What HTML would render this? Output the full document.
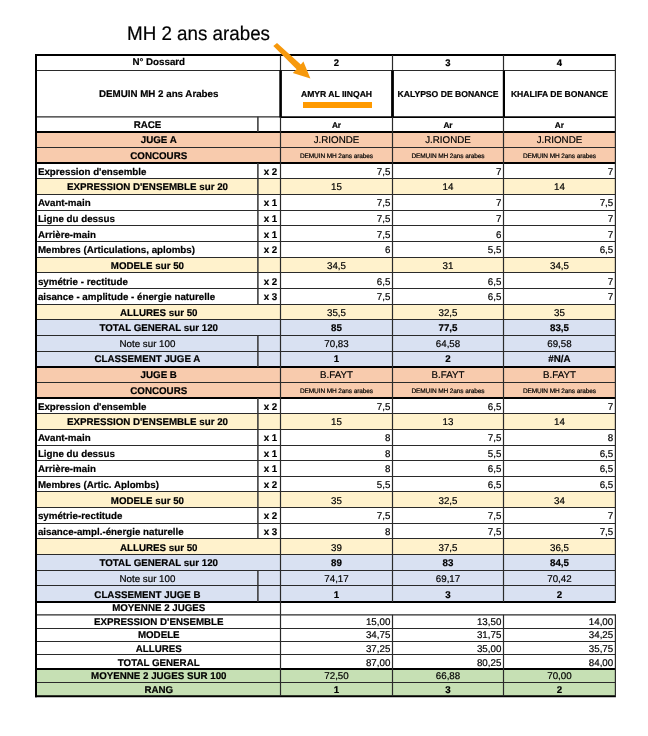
<!DOCTYPE html>
<html><head><meta charset="utf-8"><style>
html,body{margin:0;padding:0;background:#fff;}
body{width:648px;height:736px;position:relative;overflow:hidden;font-family:"Liberation Sans",sans-serif;color:#000;}
svg{position:absolute;left:0;top:0;}
.t{position:absolute;height:20px;line-height:20px;white-space:nowrap;text-rendering:geometricPrecision;-webkit-text-stroke:0.2px #000;}
.title{position:absolute;left:127px;top:18px;font-size:18.8px;line-height:30px;white-space:nowrap;text-rendering:geometricPrecision;transform:scaleY(1.05);transform-origin:0 0;-webkit-text-stroke:0.2px #000;}
</style></head><body>
<svg width="648" height="736" viewBox="0 0 648 736">
<rect x="36" y="132" width="579.4" height="15.5" fill="#F8CBAD"/>
<rect x="36" y="147.5" width="579.4" height="15.5" fill="#F8CBAD"/>
<rect x="36" y="178.5" width="579.4" height="16.0" fill="#FFF2CC"/>
<rect x="36" y="257.5" width="579.4" height="15.0" fill="#FFF2CC"/>
<rect x="36" y="304.5" width="579.4" height="15.0" fill="#FFF2CC"/>
<rect x="36" y="319.5" width="579.4" height="16.0" fill="#D9E1F2"/>
<rect x="36" y="335.5" width="579.4" height="16.0" fill="#D9E1F2"/>
<rect x="36" y="351.5" width="579.4" height="15.5" fill="#D9E1F2"/>
<rect x="36" y="367" width="579.4" height="15.5" fill="#F8CBAD"/>
<rect x="36" y="382.5" width="579.4" height="15.5" fill="#F8CBAD"/>
<rect x="36" y="413.5" width="579.4" height="16.0" fill="#FFF2CC"/>
<rect x="36" y="491.5" width="579.4" height="16.0" fill="#FFF2CC"/>
<rect x="36" y="538.5" width="579.4" height="16.0" fill="#FFF2CC"/>
<rect x="36" y="554.5" width="579.4" height="16.0" fill="#D9E1F2"/>
<rect x="36" y="570.5" width="579.4" height="15.0" fill="#D9E1F2"/>
<rect x="36" y="585.5" width="579.4" height="16.5" fill="#D9E1F2"/>
<rect x="36" y="669" width="579.4" height="13.5" fill="#C6E0B4"/>
<rect x="36" y="682.5" width="579.4" height="13.700000000000045" fill="#C6E0B4"/>
<rect x="303" y="102" width="69" height="6" fill="#FF9A00"/>
<line x1="35" y1="55" x2="615.9" y2="55" stroke="#000" stroke-width="2"/>
<line x1="35" y1="70.5" x2="615.9" y2="70.5" stroke="#2a2a2a" stroke-width="1.2"/>
<line x1="35" y1="116.8" x2="615.9" y2="116.8" stroke="#2a2a2a" stroke-width="1.2"/>
<line x1="35" y1="132" x2="615.9" y2="132" stroke="#000" stroke-width="2"/>
<line x1="35" y1="147.5" x2="615.9" y2="147.5" stroke="#2a2a2a" stroke-width="1.2"/>
<line x1="35" y1="163" x2="615.9" y2="163" stroke="#000" stroke-width="2"/>
<line x1="35" y1="178.5" x2="615.9" y2="178.5" stroke="#2a2a2a" stroke-width="1.2"/>
<line x1="35" y1="194.5" x2="615.9" y2="194.5" stroke="#2a2a2a" stroke-width="1.2"/>
<line x1="35" y1="210.5" x2="615.9" y2="210.5" stroke="#2a2a2a" stroke-width="1.2"/>
<line x1="35" y1="225.5" x2="615.9" y2="225.5" stroke="#2a2a2a" stroke-width="1.2"/>
<line x1="35" y1="241.5" x2="615.9" y2="241.5" stroke="#2a2a2a" stroke-width="1.2"/>
<line x1="35" y1="257.5" x2="615.9" y2="257.5" stroke="#2a2a2a" stroke-width="1.2"/>
<line x1="35" y1="272.5" x2="615.9" y2="272.5" stroke="#2a2a2a" stroke-width="1.2"/>
<line x1="35" y1="288.5" x2="615.9" y2="288.5" stroke="#2a2a2a" stroke-width="1.2"/>
<line x1="35" y1="304.5" x2="615.9" y2="304.5" stroke="#2a2a2a" stroke-width="1.2"/>
<line x1="35" y1="319.5" x2="615.9" y2="319.5" stroke="#2a2a2a" stroke-width="1.2"/>
<line x1="35" y1="335.5" x2="615.9" y2="335.5" stroke="#2a2a2a" stroke-width="1.2"/>
<line x1="35" y1="351.5" x2="615.9" y2="351.5" stroke="#2a2a2a" stroke-width="1.2"/>
<line x1="35" y1="367" x2="615.9" y2="367" stroke="#000" stroke-width="2"/>
<line x1="35" y1="382.5" x2="615.9" y2="382.5" stroke="#2a2a2a" stroke-width="1.2"/>
<line x1="35" y1="398" x2="615.9" y2="398" stroke="#000" stroke-width="2"/>
<line x1="35" y1="413.5" x2="615.9" y2="413.5" stroke="#2a2a2a" stroke-width="1.2"/>
<line x1="35" y1="429.5" x2="615.9" y2="429.5" stroke="#2a2a2a" stroke-width="1.2"/>
<line x1="35" y1="445.5" x2="615.9" y2="445.5" stroke="#2a2a2a" stroke-width="1.2"/>
<line x1="35" y1="460.5" x2="615.9" y2="460.5" stroke="#2a2a2a" stroke-width="1.2"/>
<line x1="35" y1="476.5" x2="615.9" y2="476.5" stroke="#2a2a2a" stroke-width="1.2"/>
<line x1="35" y1="491.5" x2="615.9" y2="491.5" stroke="#2a2a2a" stroke-width="1.2"/>
<line x1="35" y1="507.5" x2="615.9" y2="507.5" stroke="#2a2a2a" stroke-width="1.2"/>
<line x1="35" y1="523.5" x2="615.9" y2="523.5" stroke="#2a2a2a" stroke-width="1.2"/>
<line x1="35" y1="538.5" x2="615.9" y2="538.5" stroke="#2a2a2a" stroke-width="1.2"/>
<line x1="35" y1="554.5" x2="615.9" y2="554.5" stroke="#2a2a2a" stroke-width="1.2"/>
<line x1="35" y1="570.5" x2="615.9" y2="570.5" stroke="#2a2a2a" stroke-width="1.2"/>
<line x1="35" y1="585.5" x2="615.9" y2="585.5" stroke="#2a2a2a" stroke-width="1.2"/>
<line x1="35" y1="602" x2="615.9" y2="602" stroke="#000" stroke-width="2"/>
<line x1="35" y1="614.8" x2="615.9" y2="614.8" stroke="#2a2a2a" stroke-width="1.2"/>
<line x1="35" y1="628.5" x2="615.9" y2="628.5" stroke="#2a2a2a" stroke-width="1.2"/>
<line x1="35" y1="641.5" x2="615.9" y2="641.5" stroke="#2a2a2a" stroke-width="1.2"/>
<line x1="35" y1="654.5" x2="615.9" y2="654.5" stroke="#2a2a2a" stroke-width="1.2"/>
<line x1="35" y1="669" x2="615.9" y2="669" stroke="#000" stroke-width="2"/>
<line x1="35" y1="682.5" x2="615.9" y2="682.5" stroke="#2a2a2a" stroke-width="1.2"/>
<line x1="35" y1="696.2" x2="615.9" y2="696.2" stroke="#000" stroke-width="2"/>
<line x1="280.5" y1="117.4" x2="615.4" y2="117.4" stroke="#000" stroke-width="1.3"/>
<line x1="36" y1="54" x2="36" y2="697.2" stroke="#000" stroke-width="2"/>
<line x1="280.5" y1="55" x2="280.5" y2="70.5" stroke="#2a2a2a" stroke-width="1.2"/>
<line x1="392.5" y1="55" x2="392.5" y2="70.5" stroke="#2a2a2a" stroke-width="1.2"/>
<line x1="503.5" y1="55" x2="503.5" y2="70.5" stroke="#2a2a2a" stroke-width="1.2"/>
<line x1="615.4" y1="55" x2="615.4" y2="70.5" stroke="#2a2a2a" stroke-width="1.2"/>
<line x1="280.6" y1="70.5" x2="280.6" y2="117.5" stroke="#000" stroke-width="2.6"/>
<line x1="392.5" y1="70.5" x2="392.5" y2="117.5" stroke="#000" stroke-width="2.8"/>
<line x1="503.9" y1="70.5" x2="503.9" y2="117.5" stroke="#000" stroke-width="2.2"/>
<line x1="615.4" y1="70.5" x2="615.4" y2="116.8" stroke="#2a2a2a" stroke-width="1.2"/>
<line x1="257.9" y1="116.8" x2="257.9" y2="132" stroke="#333" stroke-width="1.5"/>
<line x1="280.5" y1="116.8" x2="280.5" y2="132" stroke="#2a2a2a" stroke-width="1.2"/>
<line x1="392.5" y1="116.8" x2="392.5" y2="132" stroke="#2a2a2a" stroke-width="1.2"/>
<line x1="503.5" y1="116.8" x2="503.5" y2="132" stroke="#2a2a2a" stroke-width="1.2"/>
<line x1="615.4" y1="116.8" x2="615.4" y2="132" stroke="#2a2a2a" stroke-width="1.2"/>
<line x1="280.5" y1="132" x2="280.5" y2="147.5" stroke="#2a2a2a" stroke-width="1.2"/>
<line x1="392.5" y1="132" x2="392.5" y2="147.5" stroke="#2a2a2a" stroke-width="1.2"/>
<line x1="503.5" y1="132" x2="503.5" y2="147.5" stroke="#2a2a2a" stroke-width="1.2"/>
<line x1="615.4" y1="132" x2="615.4" y2="147.5" stroke="#2a2a2a" stroke-width="1.2"/>
<line x1="280.5" y1="147.5" x2="280.5" y2="163" stroke="#2a2a2a" stroke-width="1.2"/>
<line x1="392.5" y1="147.5" x2="392.5" y2="163" stroke="#2a2a2a" stroke-width="1.2"/>
<line x1="503.5" y1="147.5" x2="503.5" y2="163" stroke="#2a2a2a" stroke-width="1.2"/>
<line x1="615.4" y1="147.5" x2="615.4" y2="163" stroke="#2a2a2a" stroke-width="1.2"/>
<line x1="257.9" y1="163" x2="257.9" y2="178.5" stroke="#333" stroke-width="1.5"/>
<line x1="280.5" y1="163" x2="280.5" y2="178.5" stroke="#2a2a2a" stroke-width="1.2"/>
<line x1="392.5" y1="163" x2="392.5" y2="178.5" stroke="#2a2a2a" stroke-width="1.2"/>
<line x1="503.5" y1="163" x2="503.5" y2="178.5" stroke="#2a2a2a" stroke-width="1.2"/>
<line x1="615.4" y1="163" x2="615.4" y2="178.5" stroke="#2a2a2a" stroke-width="1.2"/>
<line x1="257.9" y1="178.5" x2="257.9" y2="194.5" stroke="#333" stroke-width="1.5"/>
<line x1="280.5" y1="178.5" x2="280.5" y2="194.5" stroke="#2a2a2a" stroke-width="1.2"/>
<line x1="392.5" y1="178.5" x2="392.5" y2="194.5" stroke="#2a2a2a" stroke-width="1.2"/>
<line x1="503.5" y1="178.5" x2="503.5" y2="194.5" stroke="#2a2a2a" stroke-width="1.2"/>
<line x1="615.4" y1="178.5" x2="615.4" y2="194.5" stroke="#2a2a2a" stroke-width="1.2"/>
<line x1="257.9" y1="194.5" x2="257.9" y2="210.5" stroke="#333" stroke-width="1.5"/>
<line x1="280.5" y1="194.5" x2="280.5" y2="210.5" stroke="#2a2a2a" stroke-width="1.2"/>
<line x1="392.5" y1="194.5" x2="392.5" y2="210.5" stroke="#2a2a2a" stroke-width="1.2"/>
<line x1="503.5" y1="194.5" x2="503.5" y2="210.5" stroke="#2a2a2a" stroke-width="1.2"/>
<line x1="615.4" y1="194.5" x2="615.4" y2="210.5" stroke="#2a2a2a" stroke-width="1.2"/>
<line x1="257.9" y1="210.5" x2="257.9" y2="225.5" stroke="#333" stroke-width="1.5"/>
<line x1="280.5" y1="210.5" x2="280.5" y2="225.5" stroke="#2a2a2a" stroke-width="1.2"/>
<line x1="392.5" y1="210.5" x2="392.5" y2="225.5" stroke="#2a2a2a" stroke-width="1.2"/>
<line x1="503.5" y1="210.5" x2="503.5" y2="225.5" stroke="#2a2a2a" stroke-width="1.2"/>
<line x1="615.4" y1="210.5" x2="615.4" y2="225.5" stroke="#2a2a2a" stroke-width="1.2"/>
<line x1="257.9" y1="225.5" x2="257.9" y2="241.5" stroke="#333" stroke-width="1.5"/>
<line x1="280.5" y1="225.5" x2="280.5" y2="241.5" stroke="#2a2a2a" stroke-width="1.2"/>
<line x1="392.5" y1="225.5" x2="392.5" y2="241.5" stroke="#2a2a2a" stroke-width="1.2"/>
<line x1="503.5" y1="225.5" x2="503.5" y2="241.5" stroke="#2a2a2a" stroke-width="1.2"/>
<line x1="615.4" y1="225.5" x2="615.4" y2="241.5" stroke="#2a2a2a" stroke-width="1.2"/>
<line x1="257.9" y1="241.5" x2="257.9" y2="257.5" stroke="#333" stroke-width="1.5"/>
<line x1="280.5" y1="241.5" x2="280.5" y2="257.5" stroke="#2a2a2a" stroke-width="1.2"/>
<line x1="392.5" y1="241.5" x2="392.5" y2="257.5" stroke="#2a2a2a" stroke-width="1.2"/>
<line x1="503.5" y1="241.5" x2="503.5" y2="257.5" stroke="#2a2a2a" stroke-width="1.2"/>
<line x1="615.4" y1="241.5" x2="615.4" y2="257.5" stroke="#2a2a2a" stroke-width="1.2"/>
<line x1="257.9" y1="257.5" x2="257.9" y2="272.5" stroke="#333" stroke-width="1.5"/>
<line x1="280.5" y1="257.5" x2="280.5" y2="272.5" stroke="#2a2a2a" stroke-width="1.2"/>
<line x1="392.5" y1="257.5" x2="392.5" y2="272.5" stroke="#2a2a2a" stroke-width="1.2"/>
<line x1="503.5" y1="257.5" x2="503.5" y2="272.5" stroke="#2a2a2a" stroke-width="1.2"/>
<line x1="615.4" y1="257.5" x2="615.4" y2="272.5" stroke="#2a2a2a" stroke-width="1.2"/>
<line x1="257.9" y1="272.5" x2="257.9" y2="288.5" stroke="#333" stroke-width="1.5"/>
<line x1="280.5" y1="272.5" x2="280.5" y2="288.5" stroke="#2a2a2a" stroke-width="1.2"/>
<line x1="392.5" y1="272.5" x2="392.5" y2="288.5" stroke="#2a2a2a" stroke-width="1.2"/>
<line x1="503.5" y1="272.5" x2="503.5" y2="288.5" stroke="#2a2a2a" stroke-width="1.2"/>
<line x1="615.4" y1="272.5" x2="615.4" y2="288.5" stroke="#2a2a2a" stroke-width="1.2"/>
<line x1="257.9" y1="288.5" x2="257.9" y2="304.5" stroke="#333" stroke-width="1.5"/>
<line x1="280.5" y1="288.5" x2="280.5" y2="304.5" stroke="#2a2a2a" stroke-width="1.2"/>
<line x1="392.5" y1="288.5" x2="392.5" y2="304.5" stroke="#2a2a2a" stroke-width="1.2"/>
<line x1="503.5" y1="288.5" x2="503.5" y2="304.5" stroke="#2a2a2a" stroke-width="1.2"/>
<line x1="615.4" y1="288.5" x2="615.4" y2="304.5" stroke="#2a2a2a" stroke-width="1.2"/>
<line x1="280.5" y1="304.5" x2="280.5" y2="319.5" stroke="#2a2a2a" stroke-width="1.2"/>
<line x1="392.5" y1="304.5" x2="392.5" y2="319.5" stroke="#2a2a2a" stroke-width="1.2"/>
<line x1="503.5" y1="304.5" x2="503.5" y2="319.5" stroke="#2a2a2a" stroke-width="1.2"/>
<line x1="615.4" y1="304.5" x2="615.4" y2="319.5" stroke="#2a2a2a" stroke-width="1.2"/>
<line x1="280.5" y1="319.5" x2="280.5" y2="335.5" stroke="#2a2a2a" stroke-width="1.2"/>
<line x1="392.5" y1="319.5" x2="392.5" y2="335.5" stroke="#2a2a2a" stroke-width="1.2"/>
<line x1="503.5" y1="319.5" x2="503.5" y2="335.5" stroke="#2a2a2a" stroke-width="1.2"/>
<line x1="615.4" y1="319.5" x2="615.4" y2="335.5" stroke="#2a2a2a" stroke-width="1.2"/>
<line x1="257.9" y1="335.5" x2="257.9" y2="351.5" stroke="#333" stroke-width="1.5"/>
<line x1="280.5" y1="335.5" x2="280.5" y2="351.5" stroke="#2a2a2a" stroke-width="1.2"/>
<line x1="392.5" y1="335.5" x2="392.5" y2="351.5" stroke="#2a2a2a" stroke-width="1.2"/>
<line x1="503.5" y1="335.5" x2="503.5" y2="351.5" stroke="#2a2a2a" stroke-width="1.2"/>
<line x1="615.4" y1="335.5" x2="615.4" y2="351.5" stroke="#2a2a2a" stroke-width="1.2"/>
<line x1="257.9" y1="351.5" x2="257.9" y2="367" stroke="#333" stroke-width="1.5"/>
<line x1="280.5" y1="351.5" x2="280.5" y2="367" stroke="#2a2a2a" stroke-width="1.2"/>
<line x1="392.5" y1="351.5" x2="392.5" y2="367" stroke="#2a2a2a" stroke-width="1.2"/>
<line x1="503.5" y1="351.5" x2="503.5" y2="367" stroke="#2a2a2a" stroke-width="1.2"/>
<line x1="615.4" y1="351.5" x2="615.4" y2="367" stroke="#2a2a2a" stroke-width="1.2"/>
<line x1="280.5" y1="367" x2="280.5" y2="382.5" stroke="#2a2a2a" stroke-width="1.2"/>
<line x1="392.5" y1="367" x2="392.5" y2="382.5" stroke="#2a2a2a" stroke-width="1.2"/>
<line x1="503.5" y1="367" x2="503.5" y2="382.5" stroke="#2a2a2a" stroke-width="1.2"/>
<line x1="615.4" y1="367" x2="615.4" y2="382.5" stroke="#2a2a2a" stroke-width="1.2"/>
<line x1="280.5" y1="382.5" x2="280.5" y2="398" stroke="#2a2a2a" stroke-width="1.2"/>
<line x1="392.5" y1="382.5" x2="392.5" y2="398" stroke="#2a2a2a" stroke-width="1.2"/>
<line x1="503.5" y1="382.5" x2="503.5" y2="398" stroke="#2a2a2a" stroke-width="1.2"/>
<line x1="615.4" y1="382.5" x2="615.4" y2="398" stroke="#2a2a2a" stroke-width="1.2"/>
<line x1="257.9" y1="398" x2="257.9" y2="413.5" stroke="#333" stroke-width="1.5"/>
<line x1="280.5" y1="398" x2="280.5" y2="413.5" stroke="#2a2a2a" stroke-width="1.2"/>
<line x1="392.5" y1="398" x2="392.5" y2="413.5" stroke="#2a2a2a" stroke-width="1.2"/>
<line x1="503.5" y1="398" x2="503.5" y2="413.5" stroke="#2a2a2a" stroke-width="1.2"/>
<line x1="615.4" y1="398" x2="615.4" y2="413.5" stroke="#2a2a2a" stroke-width="1.2"/>
<line x1="257.9" y1="413.5" x2="257.9" y2="429.5" stroke="#333" stroke-width="1.5"/>
<line x1="280.5" y1="413.5" x2="280.5" y2="429.5" stroke="#2a2a2a" stroke-width="1.2"/>
<line x1="392.5" y1="413.5" x2="392.5" y2="429.5" stroke="#2a2a2a" stroke-width="1.2"/>
<line x1="503.5" y1="413.5" x2="503.5" y2="429.5" stroke="#2a2a2a" stroke-width="1.2"/>
<line x1="615.4" y1="413.5" x2="615.4" y2="429.5" stroke="#2a2a2a" stroke-width="1.2"/>
<line x1="257.9" y1="429.5" x2="257.9" y2="445.5" stroke="#333" stroke-width="1.5"/>
<line x1="280.5" y1="429.5" x2="280.5" y2="445.5" stroke="#2a2a2a" stroke-width="1.2"/>
<line x1="392.5" y1="429.5" x2="392.5" y2="445.5" stroke="#2a2a2a" stroke-width="1.2"/>
<line x1="503.5" y1="429.5" x2="503.5" y2="445.5" stroke="#2a2a2a" stroke-width="1.2"/>
<line x1="615.4" y1="429.5" x2="615.4" y2="445.5" stroke="#2a2a2a" stroke-width="1.2"/>
<line x1="257.9" y1="445.5" x2="257.9" y2="460.5" stroke="#333" stroke-width="1.5"/>
<line x1="280.5" y1="445.5" x2="280.5" y2="460.5" stroke="#2a2a2a" stroke-width="1.2"/>
<line x1="392.5" y1="445.5" x2="392.5" y2="460.5" stroke="#2a2a2a" stroke-width="1.2"/>
<line x1="503.5" y1="445.5" x2="503.5" y2="460.5" stroke="#2a2a2a" stroke-width="1.2"/>
<line x1="615.4" y1="445.5" x2="615.4" y2="460.5" stroke="#2a2a2a" stroke-width="1.2"/>
<line x1="257.9" y1="460.5" x2="257.9" y2="476.5" stroke="#333" stroke-width="1.5"/>
<line x1="280.5" y1="460.5" x2="280.5" y2="476.5" stroke="#2a2a2a" stroke-width="1.2"/>
<line x1="392.5" y1="460.5" x2="392.5" y2="476.5" stroke="#2a2a2a" stroke-width="1.2"/>
<line x1="503.5" y1="460.5" x2="503.5" y2="476.5" stroke="#2a2a2a" stroke-width="1.2"/>
<line x1="615.4" y1="460.5" x2="615.4" y2="476.5" stroke="#2a2a2a" stroke-width="1.2"/>
<line x1="257.9" y1="476.5" x2="257.9" y2="491.5" stroke="#333" stroke-width="1.5"/>
<line x1="280.5" y1="476.5" x2="280.5" y2="491.5" stroke="#2a2a2a" stroke-width="1.2"/>
<line x1="392.5" y1="476.5" x2="392.5" y2="491.5" stroke="#2a2a2a" stroke-width="1.2"/>
<line x1="503.5" y1="476.5" x2="503.5" y2="491.5" stroke="#2a2a2a" stroke-width="1.2"/>
<line x1="615.4" y1="476.5" x2="615.4" y2="491.5" stroke="#2a2a2a" stroke-width="1.2"/>
<line x1="257.9" y1="491.5" x2="257.9" y2="507.5" stroke="#333" stroke-width="1.5"/>
<line x1="280.5" y1="491.5" x2="280.5" y2="507.5" stroke="#2a2a2a" stroke-width="1.2"/>
<line x1="392.5" y1="491.5" x2="392.5" y2="507.5" stroke="#2a2a2a" stroke-width="1.2"/>
<line x1="503.5" y1="491.5" x2="503.5" y2="507.5" stroke="#2a2a2a" stroke-width="1.2"/>
<line x1="615.4" y1="491.5" x2="615.4" y2="507.5" stroke="#2a2a2a" stroke-width="1.2"/>
<line x1="257.9" y1="507.5" x2="257.9" y2="523.5" stroke="#333" stroke-width="1.5"/>
<line x1="280.5" y1="507.5" x2="280.5" y2="523.5" stroke="#2a2a2a" stroke-width="1.2"/>
<line x1="392.5" y1="507.5" x2="392.5" y2="523.5" stroke="#2a2a2a" stroke-width="1.2"/>
<line x1="503.5" y1="507.5" x2="503.5" y2="523.5" stroke="#2a2a2a" stroke-width="1.2"/>
<line x1="615.4" y1="507.5" x2="615.4" y2="523.5" stroke="#2a2a2a" stroke-width="1.2"/>
<line x1="257.9" y1="523.5" x2="257.9" y2="538.5" stroke="#333" stroke-width="1.5"/>
<line x1="280.5" y1="523.5" x2="280.5" y2="538.5" stroke="#2a2a2a" stroke-width="1.2"/>
<line x1="392.5" y1="523.5" x2="392.5" y2="538.5" stroke="#2a2a2a" stroke-width="1.2"/>
<line x1="503.5" y1="523.5" x2="503.5" y2="538.5" stroke="#2a2a2a" stroke-width="1.2"/>
<line x1="615.4" y1="523.5" x2="615.4" y2="538.5" stroke="#2a2a2a" stroke-width="1.2"/>
<line x1="280.5" y1="538.5" x2="280.5" y2="554.5" stroke="#2a2a2a" stroke-width="1.2"/>
<line x1="392.5" y1="538.5" x2="392.5" y2="554.5" stroke="#2a2a2a" stroke-width="1.2"/>
<line x1="503.5" y1="538.5" x2="503.5" y2="554.5" stroke="#2a2a2a" stroke-width="1.2"/>
<line x1="615.4" y1="538.5" x2="615.4" y2="554.5" stroke="#2a2a2a" stroke-width="1.2"/>
<line x1="280.5" y1="554.5" x2="280.5" y2="570.5" stroke="#2a2a2a" stroke-width="1.2"/>
<line x1="392.5" y1="554.5" x2="392.5" y2="570.5" stroke="#2a2a2a" stroke-width="1.2"/>
<line x1="503.5" y1="554.5" x2="503.5" y2="570.5" stroke="#2a2a2a" stroke-width="1.2"/>
<line x1="615.4" y1="554.5" x2="615.4" y2="570.5" stroke="#2a2a2a" stroke-width="1.2"/>
<line x1="257.9" y1="570.5" x2="257.9" y2="585.5" stroke="#333" stroke-width="1.5"/>
<line x1="280.5" y1="570.5" x2="280.5" y2="585.5" stroke="#2a2a2a" stroke-width="1.2"/>
<line x1="392.5" y1="570.5" x2="392.5" y2="585.5" stroke="#2a2a2a" stroke-width="1.2"/>
<line x1="503.5" y1="570.5" x2="503.5" y2="585.5" stroke="#2a2a2a" stroke-width="1.2"/>
<line x1="615.4" y1="570.5" x2="615.4" y2="585.5" stroke="#2a2a2a" stroke-width="1.2"/>
<line x1="257.9" y1="585.5" x2="257.9" y2="602" stroke="#333" stroke-width="1.5"/>
<line x1="280.5" y1="585.5" x2="280.5" y2="602" stroke="#2a2a2a" stroke-width="1.2"/>
<line x1="392.5" y1="585.5" x2="392.5" y2="602" stroke="#2a2a2a" stroke-width="1.2"/>
<line x1="503.5" y1="585.5" x2="503.5" y2="602" stroke="#2a2a2a" stroke-width="1.2"/>
<line x1="615.4" y1="585.5" x2="615.4" y2="602" stroke="#2a2a2a" stroke-width="1.2"/>
<line x1="280.5" y1="602" x2="280.5" y2="614.8" stroke="#2a2a2a" stroke-width="1.2"/>
<line x1="280.5" y1="614.8" x2="280.5" y2="628.5" stroke="#2a2a2a" stroke-width="1.2"/>
<line x1="392.5" y1="614.8" x2="392.5" y2="628.5" stroke="#2a2a2a" stroke-width="1.2"/>
<line x1="503.5" y1="614.8" x2="503.5" y2="628.5" stroke="#2a2a2a" stroke-width="1.2"/>
<line x1="615.4" y1="614.8" x2="615.4" y2="628.5" stroke="#2a2a2a" stroke-width="1.2"/>
<line x1="280.5" y1="628.5" x2="280.5" y2="641.5" stroke="#2a2a2a" stroke-width="1.2"/>
<line x1="392.5" y1="628.5" x2="392.5" y2="641.5" stroke="#2a2a2a" stroke-width="1.2"/>
<line x1="503.5" y1="628.5" x2="503.5" y2="641.5" stroke="#2a2a2a" stroke-width="1.2"/>
<line x1="615.4" y1="628.5" x2="615.4" y2="641.5" stroke="#2a2a2a" stroke-width="1.2"/>
<line x1="280.5" y1="641.5" x2="280.5" y2="654.5" stroke="#2a2a2a" stroke-width="1.2"/>
<line x1="392.5" y1="641.5" x2="392.5" y2="654.5" stroke="#2a2a2a" stroke-width="1.2"/>
<line x1="503.5" y1="641.5" x2="503.5" y2="654.5" stroke="#2a2a2a" stroke-width="1.2"/>
<line x1="615.4" y1="641.5" x2="615.4" y2="654.5" stroke="#2a2a2a" stroke-width="1.2"/>
<line x1="280.5" y1="654.5" x2="280.5" y2="669" stroke="#2a2a2a" stroke-width="1.2"/>
<line x1="392.5" y1="654.5" x2="392.5" y2="669" stroke="#2a2a2a" stroke-width="1.2"/>
<line x1="503.5" y1="654.5" x2="503.5" y2="669" stroke="#2a2a2a" stroke-width="1.2"/>
<line x1="615.4" y1="654.5" x2="615.4" y2="669" stroke="#2a2a2a" stroke-width="1.2"/>
<line x1="280.5" y1="669" x2="280.5" y2="682.5" stroke="#2a2a2a" stroke-width="1.2"/>
<line x1="392.5" y1="669" x2="392.5" y2="682.5" stroke="#2a2a2a" stroke-width="1.2"/>
<line x1="503.5" y1="669" x2="503.5" y2="682.5" stroke="#2a2a2a" stroke-width="1.2"/>
<line x1="615.4" y1="669" x2="615.4" y2="682.5" stroke="#2a2a2a" stroke-width="1.2"/>
<line x1="280.5" y1="682.5" x2="280.5" y2="696.2" stroke="#2a2a2a" stroke-width="1.2"/>
<line x1="392.5" y1="682.5" x2="392.5" y2="696.2" stroke="#2a2a2a" stroke-width="1.2"/>
<line x1="503.5" y1="682.5" x2="503.5" y2="696.2" stroke="#2a2a2a" stroke-width="1.2"/>
<line x1="615.4" y1="682.5" x2="615.4" y2="696.2" stroke="#2a2a2a" stroke-width="1.2"/>
<polygon points="273.3,46.1 277,42.9 300.8,64.6 303.4,61.4 310.4,78.5 292.8,73 296.6,69.2" fill="#F7990C"/>
</svg>
<div id="tx" style="position:absolute;left:0;top:0;width:648px;height:736px;will-change:transform;">
<div class="title">MH 2 ans arabes</div>
<div class="t" style="left:37px;width:243.5px;top:53.02px;font-size:9.75px;text-align:center;font-weight:bold;">N° Dossard</div>
<div class="t" style="left:280.5px;width:112.0px;top:54.11px;font-size:9.5px;text-align:center;font-weight:bold;">2</div>
<div class="t" style="left:392.5px;width:111.0px;top:54.11px;font-size:9.5px;text-align:center;font-weight:bold;">3</div>
<div class="t" style="left:503.5px;width:111.89999999999998px;top:54.11px;font-size:9.5px;text-align:center;font-weight:bold;">4</div>
<div class="t" style="left:37px;width:243.5px;top:85.42px;font-size:9.75px;text-align:center;font-weight:bold;">DEMUIN MH 2 ans Arabes</div>
<div class="t" style="left:280.5px;width:112.0px;top:84.02px;font-size:8.6px;text-align:center;font-weight:bold;">AMYR AL IINQAH</div>
<div class="t" style="left:392.5px;width:111.0px;top:84.02px;font-size:8.6px;text-align:center;font-weight:bold;">KALYPSO DE BONANCE</div>
<div class="t" style="left:503.5px;width:111.89999999999998px;top:84.02px;font-size:8.6px;text-align:center;font-weight:bold;">KHALIFA DE BONANCE</div>
<div class="t" style="left:37px;width:220.89999999999998px;top:115.92px;font-size:9.75px;text-align:center;font-weight:bold;">RACE</div>
<div class="t" style="left:280.5px;width:112.0px;top:115.12px;font-size:8.3px;text-align:center;font-weight:bold;">Ar</div>
<div class="t" style="left:392.5px;width:111.0px;top:115.12px;font-size:8.3px;text-align:center;font-weight:bold;">Ar</div>
<div class="t" style="left:503.5px;width:111.89999999999998px;top:115.12px;font-size:8.3px;text-align:center;font-weight:bold;">Ar</div>
<div class="t" style="left:37px;width:243.5px;top:130.92px;font-size:9.75px;text-align:center;font-weight:bold;">JUGE A</div>
<div class="t" style="left:280.5px;width:112.0px;top:130.92px;font-size:9.75px;text-align:center;">J.RIONDE</div>
<div class="t" style="left:392.5px;width:111.0px;top:130.92px;font-size:9.75px;text-align:center;">J.RIONDE</div>
<div class="t" style="left:503.5px;width:111.89999999999998px;top:130.92px;font-size:9.75px;text-align:center;">J.RIONDE</div>
<div class="t" style="left:37px;width:243.5px;top:146.92px;font-size:9.75px;text-align:center;font-weight:bold;">CONCOURS</div>
<div class="t" style="left:280.5px;width:112.0px;top:147.05px;font-size:6.5px;text-align:center;letter-spacing:-0.1px;">DEMUIN MH 2ans arabes</div>
<div class="t" style="left:392.5px;width:111.0px;top:147.05px;font-size:6.5px;text-align:center;letter-spacing:-0.1px;">DEMUIN MH 2ans arabes</div>
<div class="t" style="left:503.5px;width:111.89999999999998px;top:147.05px;font-size:6.5px;text-align:center;letter-spacing:-0.1px;">DEMUIN MH 2ans arabes</div>
<div class="t" style="left:37px;width:220.89999999999998px;top:162.92px;font-size:9.75px;text-align:left;font-weight:bold;padding-left:0.9px;box-sizing:border-box;">Expression d'ensemble</div>
<div class="t" style="left:257.9px;width:22.600000000000023px;top:162.92px;font-size:9.75px;text-align:right;font-weight:bold;padding-right:3.2px;box-sizing:border-box;">x 2</div>
<div class="t" style="left:280.5px;width:112.0px;top:162.92px;font-size:9.75px;text-align:right;padding-right:2.2px;box-sizing:border-box;">7,5</div>
<div class="t" style="left:392.5px;width:111.0px;top:162.92px;font-size:9.75px;text-align:right;padding-right:2.2px;box-sizing:border-box;">7</div>
<div class="t" style="left:503.5px;width:111.89999999999998px;top:162.92px;font-size:9.75px;text-align:right;padding-right:2.2px;box-sizing:border-box;">7</div>
<div class="t" style="left:37px;width:220.89999999999998px;top:177.92px;font-size:9.75px;text-align:center;font-weight:bold;">EXPRESSION D'ENSEMBLE sur 20</div>
<div class="t" style="left:280.5px;width:112.0px;top:177.92px;font-size:9.75px;text-align:center;">15</div>
<div class="t" style="left:392.5px;width:111.0px;top:177.92px;font-size:9.75px;text-align:center;">14</div>
<div class="t" style="left:503.5px;width:111.89999999999998px;top:177.92px;font-size:9.75px;text-align:center;">14</div>
<div class="t" style="left:37px;width:220.89999999999998px;top:193.92px;font-size:9.75px;text-align:left;font-weight:bold;padding-left:0.9px;box-sizing:border-box;">Avant-main</div>
<div class="t" style="left:257.9px;width:22.600000000000023px;top:193.92px;font-size:9.75px;text-align:right;font-weight:bold;padding-right:3.2px;box-sizing:border-box;">x 1</div>
<div class="t" style="left:280.5px;width:112.0px;top:193.92px;font-size:9.75px;text-align:right;padding-right:2.2px;box-sizing:border-box;">7,5</div>
<div class="t" style="left:392.5px;width:111.0px;top:193.92px;font-size:9.75px;text-align:right;padding-right:2.2px;box-sizing:border-box;">7</div>
<div class="t" style="left:503.5px;width:111.89999999999998px;top:193.92px;font-size:9.75px;text-align:right;padding-right:2.2px;box-sizing:border-box;">7,5</div>
<div class="t" style="left:37px;width:220.89999999999998px;top:209.92px;font-size:9.75px;text-align:left;font-weight:bold;padding-left:0.9px;box-sizing:border-box;">Ligne du dessus</div>
<div class="t" style="left:257.9px;width:22.600000000000023px;top:209.92px;font-size:9.75px;text-align:right;font-weight:bold;padding-right:3.2px;box-sizing:border-box;">x 1</div>
<div class="t" style="left:280.5px;width:112.0px;top:209.92px;font-size:9.75px;text-align:right;padding-right:2.2px;box-sizing:border-box;">7,5</div>
<div class="t" style="left:392.5px;width:111.0px;top:209.92px;font-size:9.75px;text-align:right;padding-right:2.2px;box-sizing:border-box;">7</div>
<div class="t" style="left:503.5px;width:111.89999999999998px;top:209.92px;font-size:9.75px;text-align:right;padding-right:2.2px;box-sizing:border-box;">7</div>
<div class="t" style="left:37px;width:220.89999999999998px;top:225.92px;font-size:9.75px;text-align:left;font-weight:bold;padding-left:0.9px;box-sizing:border-box;">Arrière-main</div>
<div class="t" style="left:257.9px;width:22.600000000000023px;top:225.92px;font-size:9.75px;text-align:right;font-weight:bold;padding-right:3.2px;box-sizing:border-box;">x 1</div>
<div class="t" style="left:280.5px;width:112.0px;top:225.92px;font-size:9.75px;text-align:right;padding-right:2.2px;box-sizing:border-box;">7,5</div>
<div class="t" style="left:392.5px;width:111.0px;top:225.92px;font-size:9.75px;text-align:right;padding-right:2.2px;box-sizing:border-box;">6</div>
<div class="t" style="left:503.5px;width:111.89999999999998px;top:225.92px;font-size:9.75px;text-align:right;padding-right:2.2px;box-sizing:border-box;">7</div>
<div class="t" style="left:37px;width:220.89999999999998px;top:240.92px;font-size:9.75px;text-align:left;font-weight:bold;padding-left:0.9px;box-sizing:border-box;">Membres (Articulations, aplombs)</div>
<div class="t" style="left:257.9px;width:22.600000000000023px;top:240.92px;font-size:9.75px;text-align:right;font-weight:bold;padding-right:3.2px;box-sizing:border-box;">x 2</div>
<div class="t" style="left:280.5px;width:112.0px;top:240.92px;font-size:9.75px;text-align:right;padding-right:2.2px;box-sizing:border-box;">6</div>
<div class="t" style="left:392.5px;width:111.0px;top:240.92px;font-size:9.75px;text-align:right;padding-right:2.2px;box-sizing:border-box;">5,5</div>
<div class="t" style="left:503.5px;width:111.89999999999998px;top:240.92px;font-size:9.75px;text-align:right;padding-right:2.2px;box-sizing:border-box;">6,5</div>
<div class="t" style="left:37px;width:220.89999999999998px;top:256.92px;font-size:9.75px;text-align:center;font-weight:bold;">MODELE sur 50</div>
<div class="t" style="left:280.5px;width:112.0px;top:256.92px;font-size:9.75px;text-align:center;">34,5</div>
<div class="t" style="left:392.5px;width:111.0px;top:256.92px;font-size:9.75px;text-align:center;">31</div>
<div class="t" style="left:503.5px;width:111.89999999999998px;top:256.92px;font-size:9.75px;text-align:center;">34,5</div>
<div class="t" style="left:37px;width:220.89999999999998px;top:272.92px;font-size:9.75px;text-align:left;font-weight:bold;padding-left:0.9px;box-sizing:border-box;">symétrie - rectitude</div>
<div class="t" style="left:257.9px;width:22.600000000000023px;top:272.92px;font-size:9.75px;text-align:right;font-weight:bold;padding-right:3.2px;box-sizing:border-box;">x 2</div>
<div class="t" style="left:280.5px;width:112.0px;top:272.92px;font-size:9.75px;text-align:right;padding-right:2.2px;box-sizing:border-box;">6,5</div>
<div class="t" style="left:392.5px;width:111.0px;top:272.92px;font-size:9.75px;text-align:right;padding-right:2.2px;box-sizing:border-box;">6,5</div>
<div class="t" style="left:503.5px;width:111.89999999999998px;top:272.92px;font-size:9.75px;text-align:right;padding-right:2.2px;box-sizing:border-box;">7</div>
<div class="t" style="left:37px;width:220.89999999999998px;top:287.92px;font-size:9.75px;text-align:left;font-weight:bold;padding-left:0.9px;box-sizing:border-box;">aisance - amplitude - énergie naturelle</div>
<div class="t" style="left:257.9px;width:22.600000000000023px;top:287.92px;font-size:9.75px;text-align:right;font-weight:bold;padding-right:3.2px;box-sizing:border-box;">x 3</div>
<div class="t" style="left:280.5px;width:112.0px;top:287.92px;font-size:9.75px;text-align:right;padding-right:2.2px;box-sizing:border-box;">7,5</div>
<div class="t" style="left:392.5px;width:111.0px;top:287.92px;font-size:9.75px;text-align:right;padding-right:2.2px;box-sizing:border-box;">6,5</div>
<div class="t" style="left:503.5px;width:111.89999999999998px;top:287.92px;font-size:9.75px;text-align:right;padding-right:2.2px;box-sizing:border-box;">7</div>
<div class="t" style="left:37px;width:243.5px;top:303.92px;font-size:9.75px;text-align:center;font-weight:bold;">ALLURES sur 50</div>
<div class="t" style="left:280.5px;width:112.0px;top:303.92px;font-size:9.75px;text-align:center;">35,5</div>
<div class="t" style="left:392.5px;width:111.0px;top:303.92px;font-size:9.75px;text-align:center;">32,5</div>
<div class="t" style="left:503.5px;width:111.89999999999998px;top:303.92px;font-size:9.75px;text-align:center;">35</div>
<div class="t" style="left:37px;width:243.5px;top:318.92px;font-size:9.75px;text-align:center;font-weight:bold;">TOTAL GENERAL sur 120</div>
<div class="t" style="left:280.5px;width:112.0px;top:318.92px;font-size:9.75px;text-align:center;font-weight:bold;">85</div>
<div class="t" style="left:392.5px;width:111.0px;top:318.92px;font-size:9.75px;text-align:center;font-weight:bold;">77,5</div>
<div class="t" style="left:503.5px;width:111.89999999999998px;top:318.92px;font-size:9.75px;text-align:center;font-weight:bold;">83,5</div>
<div class="t" style="left:37px;width:220.89999999999998px;top:334.92px;font-size:9.75px;text-align:center;">Note sur 100</div>
<div class="t" style="left:280.5px;width:112.0px;top:334.92px;font-size:9.75px;text-align:center;">70,83</div>
<div class="t" style="left:392.5px;width:111.0px;top:334.92px;font-size:9.75px;text-align:center;">64,58</div>
<div class="t" style="left:503.5px;width:111.89999999999998px;top:334.92px;font-size:9.75px;text-align:center;">69,58</div>
<div class="t" style="left:37px;width:220.89999999999998px;top:349.92px;font-size:9.75px;text-align:center;font-weight:bold;">CLASSEMENT JUGE A</div>
<div class="t" style="left:280.5px;width:112.0px;top:349.92px;font-size:9.75px;text-align:center;font-weight:bold;">1</div>
<div class="t" style="left:392.5px;width:111.0px;top:349.92px;font-size:9.75px;text-align:center;font-weight:bold;">2</div>
<div class="t" style="left:503.5px;width:111.89999999999998px;top:349.92px;font-size:9.75px;text-align:center;font-weight:bold;">#N/A</div>
<div class="t" style="left:37px;width:243.5px;top:365.92px;font-size:9.75px;text-align:center;font-weight:bold;">JUGE B</div>
<div class="t" style="left:280.5px;width:112.0px;top:365.92px;font-size:9.75px;text-align:center;">B.FAYT</div>
<div class="t" style="left:392.5px;width:111.0px;top:365.92px;font-size:9.75px;text-align:center;">B.FAYT</div>
<div class="t" style="left:503.5px;width:111.89999999999998px;top:365.92px;font-size:9.75px;text-align:center;">B.FAYT</div>
<div class="t" style="left:37px;width:243.5px;top:381.92px;font-size:9.75px;text-align:center;font-weight:bold;">CONCOURS</div>
<div class="t" style="left:280.5px;width:112.0px;top:382.05px;font-size:6.5px;text-align:center;letter-spacing:-0.1px;">DEMUIN MH 2ans arabes</div>
<div class="t" style="left:392.5px;width:111.0px;top:382.05px;font-size:6.5px;text-align:center;letter-spacing:-0.1px;">DEMUIN MH 2ans arabes</div>
<div class="t" style="left:503.5px;width:111.89999999999998px;top:382.05px;font-size:6.5px;text-align:center;letter-spacing:-0.1px;">DEMUIN MH 2ans arabes</div>
<div class="t" style="left:37px;width:220.89999999999998px;top:397.92px;font-size:9.75px;text-align:left;font-weight:bold;padding-left:0.9px;box-sizing:border-box;">Expression d'ensemble</div>
<div class="t" style="left:257.9px;width:22.600000000000023px;top:397.92px;font-size:9.75px;text-align:right;font-weight:bold;padding-right:3.2px;box-sizing:border-box;">x 2</div>
<div class="t" style="left:280.5px;width:112.0px;top:397.92px;font-size:9.75px;text-align:right;padding-right:2.2px;box-sizing:border-box;">7,5</div>
<div class="t" style="left:392.5px;width:111.0px;top:397.92px;font-size:9.75px;text-align:right;padding-right:2.2px;box-sizing:border-box;">6,5</div>
<div class="t" style="left:503.5px;width:111.89999999999998px;top:397.92px;font-size:9.75px;text-align:right;padding-right:2.2px;box-sizing:border-box;">7</div>
<div class="t" style="left:37px;width:220.89999999999998px;top:412.92px;font-size:9.75px;text-align:center;font-weight:bold;">EXPRESSION D'ENSEMBLE sur 20</div>
<div class="t" style="left:280.5px;width:112.0px;top:412.92px;font-size:9.75px;text-align:center;">15</div>
<div class="t" style="left:392.5px;width:111.0px;top:412.92px;font-size:9.75px;text-align:center;">13</div>
<div class="t" style="left:503.5px;width:111.89999999999998px;top:412.92px;font-size:9.75px;text-align:center;">14</div>
<div class="t" style="left:37px;width:220.89999999999998px;top:428.92px;font-size:9.75px;text-align:left;font-weight:bold;padding-left:0.9px;box-sizing:border-box;">Avant-main</div>
<div class="t" style="left:257.9px;width:22.600000000000023px;top:428.92px;font-size:9.75px;text-align:right;font-weight:bold;padding-right:3.2px;box-sizing:border-box;">x 1</div>
<div class="t" style="left:280.5px;width:112.0px;top:428.92px;font-size:9.75px;text-align:right;padding-right:2.2px;box-sizing:border-box;">8</div>
<div class="t" style="left:392.5px;width:111.0px;top:428.92px;font-size:9.75px;text-align:right;padding-right:2.2px;box-sizing:border-box;">7,5</div>
<div class="t" style="left:503.5px;width:111.89999999999998px;top:428.92px;font-size:9.75px;text-align:right;padding-right:2.2px;box-sizing:border-box;">8</div>
<div class="t" style="left:37px;width:220.89999999999998px;top:444.92px;font-size:9.75px;text-align:left;font-weight:bold;padding-left:0.9px;box-sizing:border-box;">Ligne du dessus</div>
<div class="t" style="left:257.9px;width:22.600000000000023px;top:444.92px;font-size:9.75px;text-align:right;font-weight:bold;padding-right:3.2px;box-sizing:border-box;">x 1</div>
<div class="t" style="left:280.5px;width:112.0px;top:444.92px;font-size:9.75px;text-align:right;padding-right:2.2px;box-sizing:border-box;">8</div>
<div class="t" style="left:392.5px;width:111.0px;top:444.92px;font-size:9.75px;text-align:right;padding-right:2.2px;box-sizing:border-box;">5,5</div>
<div class="t" style="left:503.5px;width:111.89999999999998px;top:444.92px;font-size:9.75px;text-align:right;padding-right:2.2px;box-sizing:border-box;">6,5</div>
<div class="t" style="left:37px;width:220.89999999999998px;top:459.92px;font-size:9.75px;text-align:left;font-weight:bold;padding-left:0.9px;box-sizing:border-box;">Arrière-main</div>
<div class="t" style="left:257.9px;width:22.600000000000023px;top:459.92px;font-size:9.75px;text-align:right;font-weight:bold;padding-right:3.2px;box-sizing:border-box;">x 1</div>
<div class="t" style="left:280.5px;width:112.0px;top:459.92px;font-size:9.75px;text-align:right;padding-right:2.2px;box-sizing:border-box;">8</div>
<div class="t" style="left:392.5px;width:111.0px;top:459.92px;font-size:9.75px;text-align:right;padding-right:2.2px;box-sizing:border-box;">6,5</div>
<div class="t" style="left:503.5px;width:111.89999999999998px;top:459.92px;font-size:9.75px;text-align:right;padding-right:2.2px;box-sizing:border-box;">6,5</div>
<div class="t" style="left:37px;width:220.89999999999998px;top:475.92px;font-size:9.75px;text-align:left;font-weight:bold;padding-left:0.9px;box-sizing:border-box;">Membres (Artic. Aplombs)</div>
<div class="t" style="left:257.9px;width:22.600000000000023px;top:475.92px;font-size:9.75px;text-align:right;font-weight:bold;padding-right:3.2px;box-sizing:border-box;">x 2</div>
<div class="t" style="left:280.5px;width:112.0px;top:475.92px;font-size:9.75px;text-align:right;padding-right:2.2px;box-sizing:border-box;">5,5</div>
<div class="t" style="left:392.5px;width:111.0px;top:475.92px;font-size:9.75px;text-align:right;padding-right:2.2px;box-sizing:border-box;">6,5</div>
<div class="t" style="left:503.5px;width:111.89999999999998px;top:475.92px;font-size:9.75px;text-align:right;padding-right:2.2px;box-sizing:border-box;">6,5</div>
<div class="t" style="left:37px;width:220.89999999999998px;top:491.92px;font-size:9.75px;text-align:center;font-weight:bold;">MODELE sur 50</div>
<div class="t" style="left:280.5px;width:112.0px;top:491.92px;font-size:9.75px;text-align:center;">35</div>
<div class="t" style="left:392.5px;width:111.0px;top:491.92px;font-size:9.75px;text-align:center;">32,5</div>
<div class="t" style="left:503.5px;width:111.89999999999998px;top:491.92px;font-size:9.75px;text-align:center;">34</div>
<div class="t" style="left:37px;width:220.89999999999998px;top:506.92px;font-size:9.75px;text-align:left;font-weight:bold;padding-left:0.9px;box-sizing:border-box;">symétrie-rectitude</div>
<div class="t" style="left:257.9px;width:22.600000000000023px;top:506.92px;font-size:9.75px;text-align:right;font-weight:bold;padding-right:3.2px;box-sizing:border-box;">x 2</div>
<div class="t" style="left:280.5px;width:112.0px;top:506.92px;font-size:9.75px;text-align:right;padding-right:2.2px;box-sizing:border-box;">7,5</div>
<div class="t" style="left:392.5px;width:111.0px;top:506.92px;font-size:9.75px;text-align:right;padding-right:2.2px;box-sizing:border-box;">7,5</div>
<div class="t" style="left:503.5px;width:111.89999999999998px;top:506.92px;font-size:9.75px;text-align:right;padding-right:2.2px;box-sizing:border-box;">7</div>
<div class="t" style="left:37px;width:220.89999999999998px;top:522.92px;font-size:9.75px;text-align:left;font-weight:bold;padding-left:0.9px;box-sizing:border-box;">aisance-ampl.-énergie naturelle</div>
<div class="t" style="left:257.9px;width:22.600000000000023px;top:522.92px;font-size:9.75px;text-align:right;font-weight:bold;padding-right:3.2px;box-sizing:border-box;">x 3</div>
<div class="t" style="left:280.5px;width:112.0px;top:522.92px;font-size:9.75px;text-align:right;padding-right:2.2px;box-sizing:border-box;">8</div>
<div class="t" style="left:392.5px;width:111.0px;top:522.92px;font-size:9.75px;text-align:right;padding-right:2.2px;box-sizing:border-box;">7,5</div>
<div class="t" style="left:503.5px;width:111.89999999999998px;top:522.92px;font-size:9.75px;text-align:right;padding-right:2.2px;box-sizing:border-box;">7,5</div>
<div class="t" style="left:37px;width:243.5px;top:538.92px;font-size:9.75px;text-align:center;font-weight:bold;">ALLURES sur 50</div>
<div class="t" style="left:280.5px;width:112.0px;top:538.92px;font-size:9.75px;text-align:center;">39</div>
<div class="t" style="left:392.5px;width:111.0px;top:538.92px;font-size:9.75px;text-align:center;">37,5</div>
<div class="t" style="left:503.5px;width:111.89999999999998px;top:538.92px;font-size:9.75px;text-align:center;">36,5</div>
<div class="t" style="left:37px;width:243.5px;top:553.92px;font-size:9.75px;text-align:center;font-weight:bold;">TOTAL GENERAL sur 120</div>
<div class="t" style="left:280.5px;width:112.0px;top:553.92px;font-size:9.75px;text-align:center;font-weight:bold;">89</div>
<div class="t" style="left:392.5px;width:111.0px;top:553.92px;font-size:9.75px;text-align:center;font-weight:bold;">83</div>
<div class="t" style="left:503.5px;width:111.89999999999998px;top:553.92px;font-size:9.75px;text-align:center;font-weight:bold;">84,5</div>
<div class="t" style="left:37px;width:220.89999999999998px;top:569.92px;font-size:9.75px;text-align:center;">Note sur 100</div>
<div class="t" style="left:280.5px;width:112.0px;top:569.92px;font-size:9.75px;text-align:center;">74,17</div>
<div class="t" style="left:392.5px;width:111.0px;top:569.92px;font-size:9.75px;text-align:center;">69,17</div>
<div class="t" style="left:503.5px;width:111.89999999999998px;top:569.92px;font-size:9.75px;text-align:center;">70,42</div>
<div class="t" style="left:37px;width:220.89999999999998px;top:585.92px;font-size:9.75px;text-align:center;font-weight:bold;">CLASSEMENT JUGE B</div>
<div class="t" style="left:280.5px;width:112.0px;top:585.92px;font-size:9.75px;text-align:center;font-weight:bold;">1</div>
<div class="t" style="left:392.5px;width:111.0px;top:585.92px;font-size:9.75px;text-align:center;font-weight:bold;">3</div>
<div class="t" style="left:503.5px;width:111.89999999999998px;top:585.92px;font-size:9.75px;text-align:center;font-weight:bold;">2</div>
<div class="t" style="left:37px;width:243.5px;top:598.92px;font-size:9.75px;text-align:center;font-weight:bold;">MOYENNE 2 JUGES</div>
<div class="t" style="left:37px;width:243.5px;top:613.07px;font-size:9.75px;text-align:center;font-weight:bold;">EXPRESSION D'ENSEMBLE</div>
<div class="t" style="left:280.5px;width:112.0px;top:613.07px;font-size:9.75px;text-align:right;padding-right:2.2px;box-sizing:border-box;">15,00</div>
<div class="t" style="left:392.5px;width:111.0px;top:613.07px;font-size:9.75px;text-align:right;padding-right:2.2px;box-sizing:border-box;">13,50</div>
<div class="t" style="left:503.5px;width:111.89999999999998px;top:613.07px;font-size:9.75px;text-align:right;padding-right:2.2px;box-sizing:border-box;">14,00</div>
<div class="t" style="left:37px;width:243.5px;top:625.97px;font-size:9.75px;text-align:center;font-weight:bold;">MODELE</div>
<div class="t" style="left:280.5px;width:112.0px;top:625.97px;font-size:9.75px;text-align:right;padding-right:2.2px;box-sizing:border-box;">34,75</div>
<div class="t" style="left:392.5px;width:111.0px;top:625.97px;font-size:9.75px;text-align:right;padding-right:2.2px;box-sizing:border-box;">31,75</div>
<div class="t" style="left:503.5px;width:111.89999999999998px;top:625.97px;font-size:9.75px;text-align:right;padding-right:2.2px;box-sizing:border-box;">34,25</div>
<div class="t" style="left:37px;width:243.5px;top:639.52px;font-size:9.75px;text-align:center;font-weight:bold;">ALLURES</div>
<div class="t" style="left:280.5px;width:112.0px;top:639.52px;font-size:9.75px;text-align:right;padding-right:2.2px;box-sizing:border-box;">37,25</div>
<div class="t" style="left:392.5px;width:111.0px;top:639.52px;font-size:9.75px;text-align:right;padding-right:2.2px;box-sizing:border-box;">35,00</div>
<div class="t" style="left:503.5px;width:111.89999999999998px;top:639.52px;font-size:9.75px;text-align:right;padding-right:2.2px;box-sizing:border-box;">35,75</div>
<div class="t" style="left:37px;width:243.5px;top:653.62px;font-size:9.75px;text-align:center;font-weight:bold;">TOTAL GENERAL</div>
<div class="t" style="left:280.5px;width:112.0px;top:653.62px;font-size:9.75px;text-align:right;padding-right:2.2px;box-sizing:border-box;">87,00</div>
<div class="t" style="left:392.5px;width:111.0px;top:653.62px;font-size:9.75px;text-align:right;padding-right:2.2px;box-sizing:border-box;">80,25</div>
<div class="t" style="left:503.5px;width:111.89999999999998px;top:653.62px;font-size:9.75px;text-align:right;padding-right:2.2px;box-sizing:border-box;">84,00</div>
<div class="t" style="left:37px;width:243.5px;top:666.92px;font-size:9.75px;text-align:center;font-weight:bold;">MOYENNE 2 JUGES SUR 100</div>
<div class="t" style="left:280.5px;width:112.0px;top:666.92px;font-size:9.75px;text-align:center;">72,50</div>
<div class="t" style="left:392.5px;width:111.0px;top:666.92px;font-size:9.75px;text-align:center;">66,88</div>
<div class="t" style="left:503.5px;width:111.89999999999998px;top:666.92px;font-size:9.75px;text-align:center;">70,00</div>
<div class="t" style="left:37px;width:243.5px;top:680.62px;font-size:9.75px;text-align:center;font-weight:bold;">RANG</div>
<div class="t" style="left:280.5px;width:112.0px;top:680.62px;font-size:9.75px;text-align:center;font-weight:bold;">1</div>
<div class="t" style="left:392.5px;width:111.0px;top:680.62px;font-size:9.75px;text-align:center;font-weight:bold;">3</div>
<div class="t" style="left:503.5px;width:111.89999999999998px;top:680.62px;font-size:9.75px;text-align:center;font-weight:bold;">2</div>
</div>
</body></html>
